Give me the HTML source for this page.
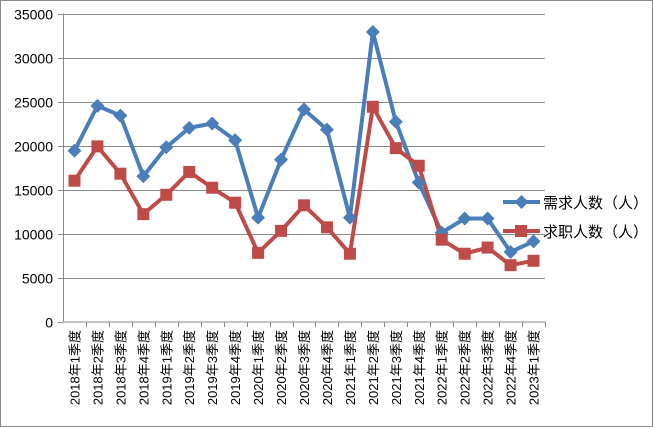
<!DOCTYPE html>
<html><head><meta charset="utf-8"><style>
body{margin:0;background:#fff}
svg{display:block;font-family:"Liberation Sans","Noto Sans CJK SC",sans-serif}
</style></head><body>
<svg width="653" height="427" viewBox="0 0 653 427">
<rect x="0.5" y="0.5" width="652" height="426" fill="#fff" stroke="#888"/>
<g id="grid"></g><g id="axes"></g><g id="series"></g>
<g>
<g>
<line x1="503" y1="202" x2="540" y2="202" stroke="#4a7ebb" stroke-width="4"/>
<path d="M521.5,195 L528.5,202 L521.5,209 L514.5,202Z" fill="#4a7ebb"/>
<text x="543" y="208" font-size="15">需求人数（人）</text></g>
<g>
<line x1="503" y1="231" x2="540" y2="231" stroke="#be4b48" stroke-width="4"/>
<rect x="515" y="225" width="12" height="12" fill="#be4b48"/>
<text x="543" y="237" font-size="15">求职人数（人）</text></g>
</g>
</svg>
<script>
const categories=["2018年1季度","2018年2季度","2018年3季度","2018年4季度","2019年1季度","2019年2季度","2019年3季度","2019年4季度","2020年1季度","2020年2季度","2020年3季度","2020年4季度","2021年1季度","2021年2季度","2021年3季度","2021年4季度","2022年1季度","2022年2季度","2022年3季度","2022年4季度","2023年1季度"];
const demand=[19400,24500,23400,16500,19800,22000,22500,20600,11800,18400,24100,21800,11800,32900,22700,15800,10100,11700,11700,7900,9100];
const supply=[16000,19900,16800,12200,14400,17000,15200,13500,7800,10300,13200,10700,7700,24400,19700,17700,9300,7700,8400,6400,6900];
const yTicks=[0,5000,10000,15000,20000,25000,30000,35000];
const NS="http://www.w3.org/2000/svg";
const X0=63,X1=545,Y0=321.5,Y1=13.5,YMAX=35000;
const step=(X1-X0)/categories.length;
const xs=i=>X0+step*(i+0.5);
const ys=v=>Y0-(v/YMAX)*(Y0-Y1);
function mk(t,a,p){const e=document.createElementNS(NS,t);for(const k in a)e.setAttribute(k,a[k]);p.appendChild(e);return e;}
const grid=document.getElementById('grid'),axes=document.getElementById('axes'),ser=document.getElementById('series');
yTicks.forEach(v=>{
 const y=Math.round(ys(v))+0.5;
 if(v>0){const l=mk('line',{x1:X0,x2:X1,y1:y,y2:y,stroke:'#888'},grid);
 
 }
 mk('line',{x1:X0-5,x2:X0,y1:y,y2:y,stroke:'#888'},axes);
 const t=mk('text',{x:X0-10,y:y+5,'text-anchor':'end','font-size':'14'},axes);
 
 
 t.textContent=v;
});
const ya=mk('line',{x1:X0+0.5,x2:X0+0.5,y1:Y1,y2:Y0+1,stroke:'#888'},axes);


const xa=mk('line',{x1:X0,x2:X1,y1:322,y2:322,stroke:'#888'},axes);


categories.forEach((c,i)=>{
 const tx=Math.round(X0+step*(i+1))+0.5;
 mk('line',{x1:tx,x2:tx,y1:322,y2:327,stroke:'#888'},axes);
 const x=xs(i)+5;
 const t=mk('text',{x:x,y:330,'text-anchor':'end','font-size':'13',transform:`rotate(-90 ${x} 330)`},axes);
 
 
 t.textContent=c;
});
function line(data,color,name){
 const p=mk('polyline',{points:data.map((v,i)=>xs(i)+','+ys(v)).join(' '),fill:'none',stroke:color,'stroke-width':'4','stroke-linejoin':'round'},ser);
 
 
}
line(demand,'#4a7ebb','demand');
line(supply,'#be4b48','supply');
demand.forEach((v,i)=>{const x=xs(i),y=ys(v);
 const m=mk('path',{d:`M${x},${y-7}L${x+7},${y}L${x},${y+7}L${x-7},${y}Z`,fill:'#4a7ebb'},ser);
 
 });
supply.forEach((v,i)=>{const x=xs(i),y=ys(v);
 const m=mk('rect',{x:x-6,y:y-6,width:12,height:12,fill:'#be4b48'},ser);
 
 });
</script>
</body></html>
